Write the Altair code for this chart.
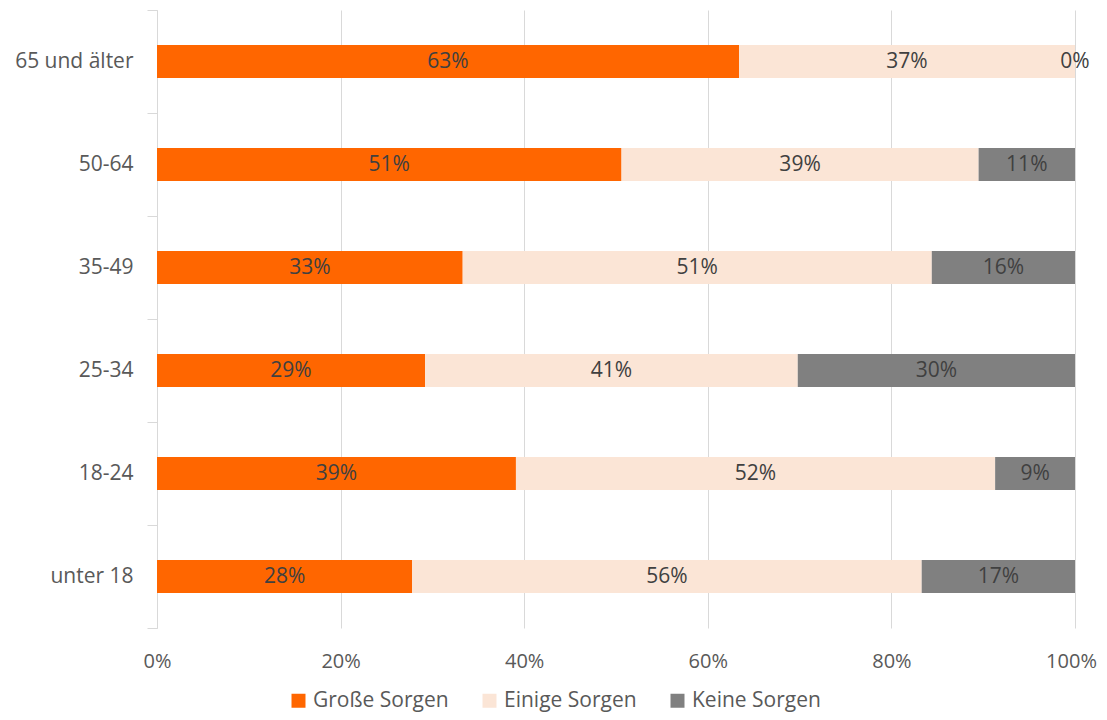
import altair as alt
import pandas as pd

ages = ["65 und älter", "50-64", "35-49", "25-34", "18-24", "unter 18"]
series = ["Große Sorgen", "Einige Sorgen", "Keine Sorgen"]
grosse = [63.4, 50.6, 33.3, 29.2, 39.1, 27.8]
einige = [36.6, 38.9, 51.1, 40.6, 52.2, 55.5]
keine = [0.0, 10.5, 15.6, 30.2, 8.7, 16.7]
lab_grosse = ["63%", "51%", "33%", "29%", "39%", "28%"]
lab_einige = ["37%", "39%", "51%", "41%", "52%", "56%"]
lab_keine = ["0%", "11%", "16%", "30%", "9%", "17%"]
colors = ["#FF6600", "#FBE5D6", "#808080"]

rows = []
for i, a in enumerate(ages):
    for k, (vals, labs) in enumerate([(grosse, lab_grosse), (einige, lab_einige), (keine, lab_keine)]):
        rows.append({"age": a, "series": series[k], "order": k, "value": vals[i], "label": labs[i]})
df = pd.DataFrame(rows)

FONT = "Open Sans"
FS = 21
TXT = "#595959"

base = alt.Chart(df).transform_stack(
    stack="value", groupby=["age"], as_=["v1", "v2"],
    sort=[alt.SortField("order", order="ascending")], offset="normalize"
).transform_calculate(mid="(datum.v1 + datum.v2) / 2")

yenc = alt.Y("age:N", sort=ages, title=None,
             scale=alt.Scale(paddingInner=0, paddingOuter=0),
             axis=alt.Axis(tickBand="extent", tickSize=10, tickColor="#d9d9d9",
                           domainColor="#d9d9d9", labelFontSize=FS, labelColor=TXT,
                           labelFont=FONT, labelPadding=14, grid=False))

bars = base.mark_bar(size=33).encode(
    x=alt.X("v1:Q", scale=alt.Scale(domain=[0, 1], nice=False), title=None,
            axis=alt.Axis(format=".0%", values=[0, 0.2, 0.4, 0.6, 0.8, 1.0], grid=True,
                          gridColor="#d9d9d9", domain=False, ticks=False,
                          labelFontSize=20, labelColor=TXT, labelFont=FONT,
                          labelFlush=False, labelPadding=23,
                          labelOffset={"condition": {"test": "datum.value == 1", "value": -4},
                                       "value": 0})),
    x2="v2:Q",
    y=yenc,
    color=alt.Color("series:N", sort=series,
                    scale=alt.Scale(domain=series, range=colors),
                    legend=alt.Legend(title=None, orient="none", legendX=131, legendY=680,
                                      direction="horizontal", symbolType="square",
                                      symbolSize=196, symbolStrokeWidth=0,
                                      labelFontSize=FS, labelColor=TXT, labelFont=FONT,
                                      labelOffset=4, columnPadding=30)),
)

texts = base.mark_text(fontSize=FS, color="#404040", font=FONT).encode(
    x=alt.X("mid:Q"),
    y=alt.Y("age:N", sort=ages),
    text="label:N",
)

chart = alt.layer(bars, texts).properties(
    width=918, height=618,
    autosize=alt.AutoSizeParams(type="none"),
    padding={"left": 149, "top": 2, "right": 24, "bottom": 84},
).configure_view(stroke=None)

chart.save("out.html", embed_options={"renderer": "svg", "actions": False})
